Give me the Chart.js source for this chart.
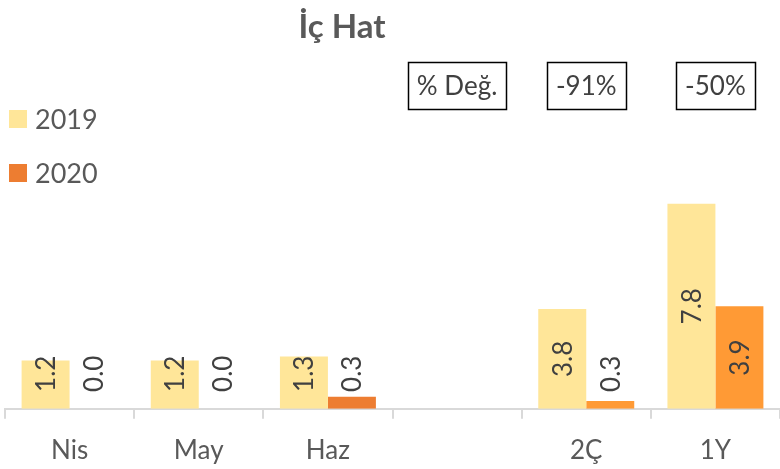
<!DOCTYPE html>
<html>
<head>
<meta charset="utf-8">
<script src="https://cdn.jsdelivr.net/npm/chart.js@4"></script>
<style>
html,body{margin:0;padding:0;background:#fff;}
canvas{display:block;}
</style>
</head>
<body>
<canvas id="c" width="780" height="469"></canvas>
<script>
const categories = ['Nis', 'May', 'Haz', '', '2Ç', '1Y'];
const seriesNames = ['2019', '2020'];
const monthly2019 = [1.2, 1.2, 1.3, null, null, null];
const monthly2020 = [0.0, 0.0, 0.3, null, null, null];
const period2019 = [null, null, null, null, 3.8, 7.8];
const period2020 = [null, null, null, null, 0.3, 3.9];
const changeLabels = ['% Değ.', '-91%', '-50%'];
const changeCategoryIndex = [3, 4, 5];
const chartTitle = 'İç Hat';

const COL_2019 = '#FFE699';
const COL_2020M = '#ED7D31';
const COL_2020P = '#FF9A35';
const TXT = '#595959';
const LBL = '#404040';
const FONT = 'Lato, "Open Sans", sans-serif';

const overlayPlugin = {
  id: 'overlay',
  afterDatasetsDraw(chart) {
    const ctx = chart.ctx;
    chart.data.datasets.forEach((ds, di) => {
      const meta = chart.getDatasetMeta(di);
      meta.data.forEach((el, i) => {
        const v = ds.data[i];
        if (v === null || v === undefined) return;
        const base = el.base, top = el.y;
        const cy = Math.min((top + base) / 2, base - 35);
        ctx.save();
        ctx.translate(el.x, cy);
        ctx.rotate(-Math.PI / 2);
        ctx.font = '26px ' + FONT;
        ctx.fillStyle = LBL;
        ctx.textAlign = 'center';
        ctx.textBaseline = 'middle';
        ctx.fillText(v.toFixed(1), 0, 1);
        ctx.restore();
      });
    });
  },
  afterDraw(chart) {
    const ctx = chart.ctx;
    const xs = chart.scales.x;
    ctx.save();
    ctx.font = 'bold 33px ' + FONT;
    ctx.fillStyle = TXT;
    ctx.textAlign = 'center';
    ctx.textBaseline = 'alphabetic';
    ctx.fillText(chartTitle, 342, 38);
    ctx.restore();
    const legendCols = [COL_2019, COL_2020M];
    const legendY = [119, 173];
    seriesNames.forEach((name, i) => {
      ctx.save();
      ctx.fillStyle = legendCols[i];
      ctx.fillRect(9, legendY[i] - 9, 18, 18);
      ctx.font = '27px ' + FONT;
      ctx.fillStyle = TXT;
      ctx.textAlign = 'left';
      ctx.textBaseline = 'middle';
      ctx.fillText(name, 35, legendY[i] + 1);
      ctx.restore();
    });
    changeLabels.forEach((t, k) => {
      const cx = xs.getPixelForValue(changeCategoryIndex[k]);
      ctx.save();
      ctx.font = '26px ' + FONT;
      const w = ctx.measureText(t).width + 18;
      const h = 47, y0 = 62;
      ctx.strokeStyle = '#000';
      ctx.lineWidth = 1.5;
      ctx.strokeRect(Math.round(cx - w / 2) + 0.5, y0 + 0.5, Math.round(w), h);
      ctx.fillStyle = LBL;
      ctx.textAlign = 'center';
      ctx.textBaseline = 'middle';
      ctx.fillText(t, cx, y0 + h / 2 + 1);
      ctx.restore();
    });
  }
};

new Chart(document.getElementById('c'), {
  type: 'bar',
  data: {
    labels: categories,
    datasets: [
      { label: seriesNames[0], data: monthly2019, backgroundColor: COL_2019, yAxisID: 'y' },
      { label: seriesNames[1], data: monthly2020, backgroundColor: COL_2020M, yAxisID: 'y' },
      { label: seriesNames[0], data: period2019, backgroundColor: COL_2019, yAxisID: 'y2' },
      { label: seriesNames[1], data: period2020, backgroundColor: COL_2020P, yAxisID: 'y2' }
    ]
  },
  options: {
    responsive: false,
    animation: false,
    events: [],
    skipNull: true,
    categoryPercentage: 0.743,
    barPercentage: 1.0,
    layout: { padding: { top: 46, left: 5, right: 0, bottom: -13 } },
    plugins: {
      legend: { display: false },
      title: { display: false },
      tooltip: { enabled: false }
    },
    scales: {
      x: {
        grid: { offset: true, drawOnChartArea: false, tickLength: 10, color: '#D9D9D9', lineWidth: 2 },
        border: { color: '#D9D9D9', width: 2 },
        ticks: { color: TXT, font: { family: FONT, size: 26 }, padding: 16, maxRotation: 0 }
      },
      y: { display: false, min: 0, max: 9 },
      y2: { display: false, min: 0, max: 13.8 }
    }
  },
  plugins: [overlayPlugin]
});
</script>
</body>
</html>
